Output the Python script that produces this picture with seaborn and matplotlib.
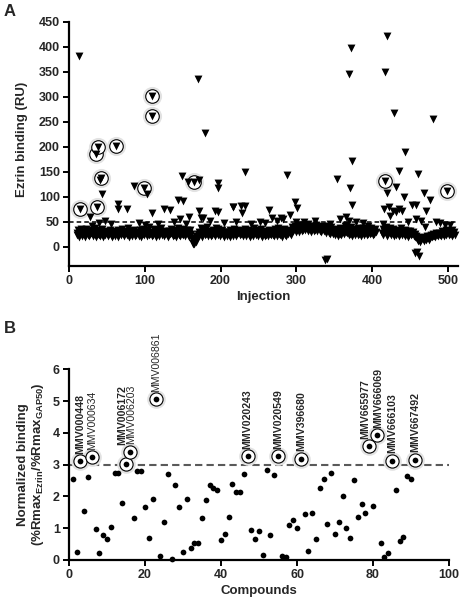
import matplotlib
matplotlib.use("Agg")
import matplotlib.pyplot as plt
import numpy as np
import pandas as pd
import seaborn as sns

# ---- Panel A data: Ezrin binding (RU) per injection ----
# bulk of injections (even and odd injections)
band_injection_even = list(range(10, 510, 2))
band_ru_even = [
    28, 33, 26, 35, 30, 27, 36, 31, 29, 25,
    34, 28, 38, 30, 26, 33, 29, 36, 27, 31,
    25, 30, 34, 28, 24, 31, 27, 33, 29, 26,
    35, 30, 27, 32, 38, 29, 26, 31, 34, 28,
    30, 25, 33, 28, 36, 31, 27, 34, 40, 30,
    28, 35, 31, 26, 33, 29, 37, 27, 30, 32,
    26, 31, 35, 28, 24, 33, 29, 38, 27, 31,
    36, 30, 45, 34, 27, 33, 18, 8, 12, 22,
    25, 30, 37, 33, 28, 35, 40, 29, 26, 31,
    34, 28, 38, 36, 31, 27, 33, 29, 26, 30,
    29, 33, 27, 31, 35, 30, 26, 34, 28, 32,
    30, 36, 27, 33, 29, 25, 31, 37, 28, 26,
    33, 29, 35, 27, 31, 24, 30, 34, 28, 32,
    26, 35, 30, 38, 28, 33, 25, 36, 31, 29,
    34, 27, 40, 36, 42, 38, 44, 39, 41, 37,
    43, 40, 38, 45, 41, 36, 42, 39, 44, 37,
    40, 35, 42, 38, 33, 41, 36, 30, 39, 34,
    31, 36, 29, 33, 38, 35, 30, 41, 44, 37,
    34, 39, 31, 36, 30, 33, 37, 32, 35, 38,
    36, 33, 38, 35, 37, 34, 31, 36, np.nan, np.nan,
    np.nan, np.nan, 36, 31, 40, 28, 33, 37, 30, 35,
    29, 34, 27, 32, 38, 30, 26, 33, 29, 31,
    32, 28, 30, 26, 22, 18, 14, 16, 20, 15,
    18, 22, 17, 21, 24, 26, 22, 28, 25, 27,
    26, 32, 29, 27, 33, 30, 28, 31, 34, 29,
]
band_injection_odd = list(range(11, 511, 2))
band_ru_odd = [
    24, 20, 29, 22, 26, 19, 27, 23, 21, 28,
    22, 25, 19, 27, 23, 21, 26, 20, 24, 29,
    21, 26, 23, 19, 28, 22, 25, 20, 27, 23,
    25, 21, 28, 23, 20, 26, 22, 29, 21, 24,
    27, 22, 20, 25, 23, 28, 21, 24, 26, 22,
    23, 27, 20, 25, 22, 29, 24, 21, 26, 23,
    20, 25, 28, 22, 24, 19, 27, 23, 21, 26,
    24, 21, 27, 23, 20, 25, 14, 5, 10, 18,
    22, 26, 20, 28, 23, 25, 21, 27, 22, 24,
    26, 22, 28, 24, 21, 25, 23, 20, 27, 22,
    24, 20, 27, 22, 25, 21, 28, 23, 26, 22,
    25, 21, 27, 23, 20, 26, 22, 28, 24, 21,
    27, 23, 20, 25, 22, 28, 21, 26, 23, 24,
    22, 27, 21, 25, 23, 20, 28, 24, 22, 26,
    28, 24, 31, 35, 29, 33, 30, 36, 32, 34,
    33, 37, 31, 35, 30, 36, 32, 34, 31, 38,
    32, 29, 35, 31, 27, 33, 28, 25, 30, 26,
    24, 28, 22, 26, 23, 29, 25, 30, 27, 24,
    26, 22, 28, 24, 27, 23, 25, 21, 29, 24,
    27, 23, 26, 25, 28, 24, 26, 29, np.nan, np.nan,
    np.nan, 27, 24, 29, 22, 26, 28, 23, 25, 21,
    24, 27, 21, 26, 23, 28, 22, 25, 20, 24,
    23, 26, 21, 19, 15, 12, 10, 13, 16, 12,
    14, 17, 13, 18, 20, 22, 19, 24, 21, 23,
    22, 25, 21, 24, 27, 23, 26, 22, 25, 24,
]

# scattered injections above / below the band
extra_injection = [13, 28, 30, 39, 44, 65, 64, 77, 86, 103, 110, 125, 133, 144, 151,
                   146, 149, 157, 172, 159, 172, 174, 177, 163, 166, 170, 180, 197, 196,
                   193, 196, 216, 221, 217, 227, 232, 228, 232, 252, 264, 268, 280, 283,
                   288, 291, 298, 301, 300, 338, 341, 354, 374, 371, 374, 369, 372, 358,
                   365, 370, 379, 414, 416, 420, 419, 417, 422, 424, 429, 431, 428, 432,
                   436, 436, 440, 442, 444, 453, 458, 458, 460, 456, 462, 459, 468, 471,
                   470, 477, 481, 484, 496, 41, 47, 56, 92, 100, 118, 138, 186, 205, 240,
                   258, 275, 310, 325, 345, 388, 395, 448, 464, 490, 503]
extra_ru = [381, 60, 41, 47, 105, 85, 75, 75, 121, 105, 67, 75, 73, 93, 92,
            55, 142, 129, 133, 59, 72, 57, 57, 5, 13, 336, 228, 128, 118,
            71, 70, 80, 49, 80, 81, 81, 68, 150, 50, 73, 57, 57, 55,
            143, 63, 90, 77, 50, -27, -24, 135, 172, 118, 83, 345, 397, 55,
            60, 52, 50, 45, 75, 107, 422, 350, 80, 62, 268, 120, 72, 70,
            152, 75, 72, 99, 190, 84, 84, 55, 145, -13, -18, -10, 108, 72,
            40, 93, 256, 50, 43, 134, 52, 45, 48, 44, 46, 50, 52, 48, 45,
            48, 52, 50, 52, 46, 47, 42, 50, 52, 48, 44]

# circled hits
hit_injection = [15, 37, 36, 38, 42, 62, 99, 110, 110, 165, 417, 499]
hit_ru = [75, 79, 185, 200, 138, 201, 117, 261, 302, 129, 131, 112]
cutoff_a = 50

# ---- Panel B data: normalized binding per compound ----
compound = list(range(1, 92))
norm_binding = [
    2.55, 0.25, 3.10, 1.55, 2.60, 3.23, 0.99, 0.22, 0.78, 0.65,
    1.05, 2.74, 2.74, 1.79, 3.02, 3.40, 1.32, 2.80, 2.81, 1.68,
    0.69, 1.92, 5.05, 0.12, 1.18, 2.69, 0.02, 2.36, 1.68, 0.26,
    1.91, 0.38, 0.53, 0.53, 1.32, 1.90, 2.36, 2.27, 2.21, 0.63,
    0.82, 1.35, 2.38, 2.14, 2.14, 2.72, 3.26, 0.94, 0.66, 0.90,
    0.17, 2.84, 0.79, 2.68, 3.26, 0.14, 0.10, 1.10, 1.26, 1.01,
    3.18, 1.45, 0.29, 1.48, 0.65, 2.25, 2.55, 1.12, 2.73, 0.81,
    1.20, 2.00, 1.00, 0.70, 2.52, 1.35, 1.77, 1.49, 3.58, 1.69,
    3.92, 0.52, 0.10, 0.23, 3.12, 2.19, 0.61, 0.72, 2.63, 2.55,
    3.15,
]
hit_compound = [3, 6, 15, 16, 23, 47, 55, 61, 79, 81, 85, 91]
hit_names = ["MMV000448", "MMV000634", "MMV006172", "MMV006203", "MMV006861",
             "MMV020243", "MMV020549", "MMV396680", "MMV665977", "MMV666069",
             "MMV666103", "MMV667492"]
hit_bold = [True, False, True, False, False, True, True, True, True, True, True, True]
cutoff_b = 3

# label nudges (points) where labels would collide
label_shift = {"MMV006172": (-3.0, 14.0), "MMV006203": (1.2, 5.5),
               "MMV665977": (-3.0, 5.5), "MMV666069": (0.8, 5.5)}

# ---- style ----
sns.set_style("ticks")
plt.rcParams['font.family'] = ['Liberation Sans', 'DejaVu Sans']
plt.rcParams['font.weight'] = 'bold'
plt.rcParams['mathtext.fontset'] = 'custom'
plt.rcParams['mathtext.rm'] = 'Liberation Sans:bold'
plt.rcParams['mathtext.bf'] = 'Liberation Sans:bold'
plt.rcParams['mathtext.it'] = 'Liberation Sans:bold'


def style_axis(ax):
    sns.despine(ax=ax)
    for s in ['left', 'bottom']:
        ax.spines[s].set_linewidth(1.6)
        ax.spines[s].set_color('black')
    ax.tick_params(width=1.4, length=4.5, color='black', labelsize=9, pad=2)
    for lab in ax.get_xticklabels() + ax.get_yticklabels():
        lab.set_fontweight('bold')


fig = plt.figure(figsize=(4.61, 6.0), dpi=100)
ax1 = fig.add_axes([0.1497, 0.5572, 0.8432, 0.4062])
ax2 = fig.add_axes([0.1497, 0.0667, 0.8243, 0.3178])

# ---- Panel A ----
df_band = pd.concat([
    pd.DataFrame({"injection": band_injection_even, "ru": band_ru_even}),
    pd.DataFrame({"injection": band_injection_odd, "ru": band_ru_odd}),
]).dropna()
df_extra = pd.DataFrame({"injection": extra_injection, "ru": extra_ru})
df_hit = pd.DataFrame({"injection": hit_injection, "ru": hit_ru})

ax1.axhline(cutoff_a, color='black', lw=1.1, ls=(0, (3, 2)), zorder=1)
sns.scatterplot(data=df_hit, x="injection", y="ru", ax=ax1, s=190, color='#e2e2e2',
                linewidth=0, zorder=2, legend=False)
sns.scatterplot(data=df_hit, x="injection", y="ru", ax=ax1, s=95, facecolor='white',
                edgecolor='black', linewidth=0.8, zorder=3, legend=False)
for d in (df_band, df_extra, df_hit):
    sns.scatterplot(data=d, x="injection", y="ru", ax=ax1, marker='v', s=32,
                    color='black', linewidth=0, zorder=4, legend=False)

ax1.set_xlim(0, 513)
ax1.set_ylim(-38, 450)
ax1.set_xticks(range(0, 501, 100))
ax1.set_yticks(range(0, 451, 50))
ax1.set_xlabel("Injection", fontsize=9.5, fontweight='bold', labelpad=3)
ax1.set_ylabel("Ezrin binding (RU)", fontsize=9.5, fontweight='bold')
ax1.yaxis.set_label_coords(-0.105, 0.52)
style_axis(ax1)
for c in ax1.collections:
    c.set_clip_on(False)

# ---- Panel B ----
df_b = pd.DataFrame({"compound": compound, "binding": norm_binding})
df_bh = df_b[df_b["compound"].isin(hit_compound)]

ax2.axhline(cutoff_b, color='#5a5a5a', lw=1.5, ls=(0, (3.5, 2)), zorder=1)
sns.scatterplot(data=df_bh, x="compound", y="binding", ax=ax2, s=180, color='#e2e2e2',
                linewidth=0, zorder=2, legend=False)
sns.scatterplot(data=df_bh, x="compound", y="binding", ax=ax2, s=90, facecolor='white',
                edgecolor='black', linewidth=0.8, zorder=3, legend=False)
sns.scatterplot(data=df_b, x="compound", y="binding", ax=ax2, s=17, color='black',
                linewidth=0, zorder=4, legend=False)

for c, name, bold in zip(hit_compound, hit_names, hit_bold):
    v = norm_binding[compound.index(c)]
    dx, dy = label_shift.get(name, (0.0, 5.5))
    ax2.annotate(name, (c, v), xytext=(dx, dy), textcoords='offset points',
                 rotation=90, ha='center', va='bottom', fontsize=7.6,
                 fontweight='bold' if bold else 'normal')

ax2.set_xlim(0, 100)
ax2.set_ylim(0, 6)
ax2.set_xticks(range(0, 101, 20))
ax2.set_yticks(range(0, 7))
ax2.set_xlabel("Compounds", fontsize=9.5, fontweight='bold', labelpad=3)
ax2.set_ylabel("Normalized binding\n(%Rmax$_{Ezrin}$/%Rmax$_{GAP50}$)", fontsize=9.5,
               fontweight='bold', linespacing=1.1)
ax2.yaxis.set_label_coords(-0.06, 0.5)
style_axis(ax2)
for c in ax2.collections:
    c.set_clip_on(False)

fig.text(0.008, 0.993, "A", fontsize=12, fontweight='bold', va='top', ha='left')
fig.text(0.008, 0.465, "B", fontsize=12, fontweight='bold', va='top', ha='left')

fig.savefig("out.png", dpi=100)
